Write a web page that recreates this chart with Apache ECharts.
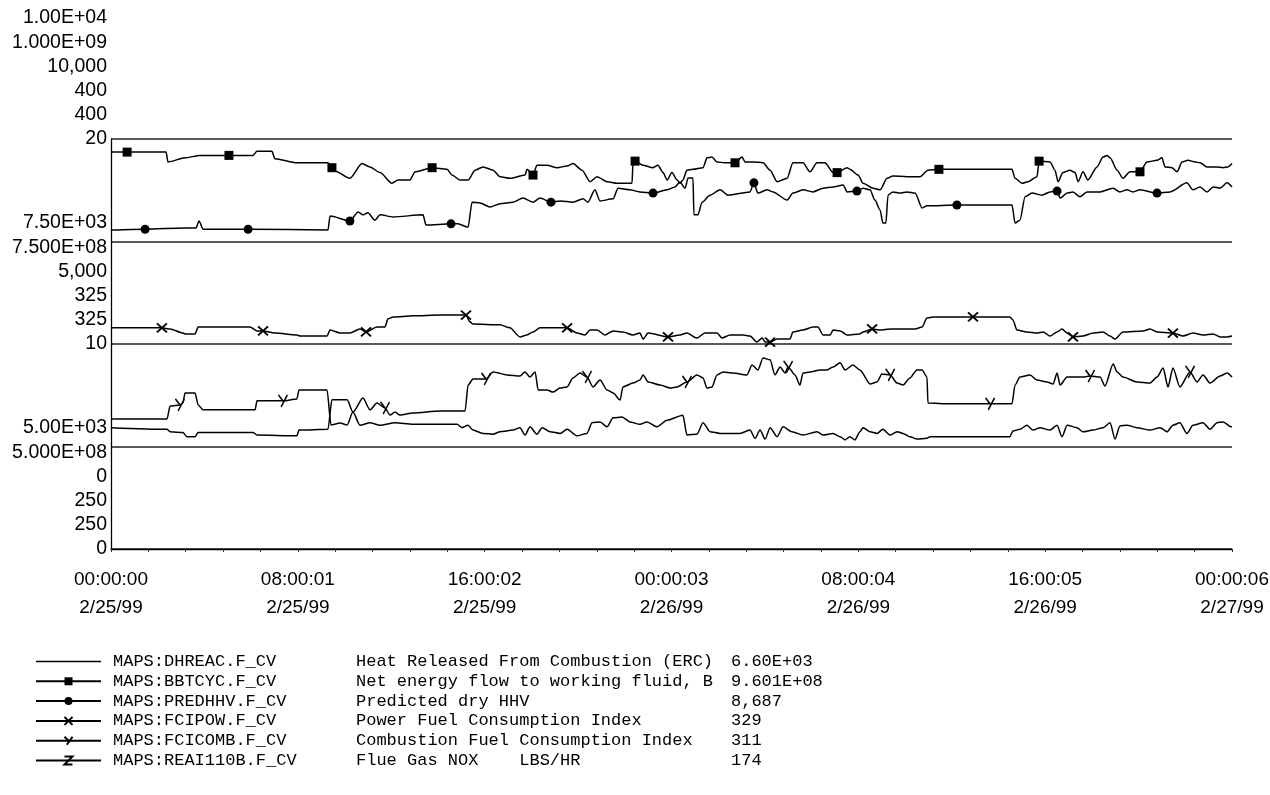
<!DOCTYPE html>
<html>
<head>
<meta charset="utf-8">
<title>MAPS trend 2/25/99 - 2/27/99</title>
<script src="https://cdn.jsdelivr.net/npm/echarts@6/dist/echarts.min.js"></script>
<style>
  html, body { margin: 0; padding: 0; background: #fff; }
  #chart { width: 1270px; height: 795px; }
</style>
</head>
<body>
<div id="chart"></div>
<script>
// x axis: hours since 00:00:00 2/25/99
const timeLabels = ['00:00:00\n2/25/99', '08:00:01\n2/25/99', '16:00:02\n2/25/99', '00:00:03\n2/26/99',
  '08:00:04\n2/26/99', '16:00:05\n2/26/99', '00:00:06\n2/27/99'];

// pen scale labels (min, mid, max)
const dhreacTicks = ['5.00E+03', '7.50E+03', '1.00E+04'];
const bbtcycTicks = ['5.000E+08', '7.500E+08', '1.000E+09'];
const predhhvTicks = ['0', '5,000', '10,000'];
const fcipowTicks = ['250', '325', '400'];
const fcicombTicks = ['250', '325', '400'];
const reaiTicks = ['0', '10', '20'];

// legend text
const tags = ['MAPS:DHREAC.F_CV', 'MAPS:BBTCYC.F_CV', 'MAPS:PREDHHV.F_CV', 'MAPS:FCIPOW.F_CV', 'MAPS:FCICOMB.F_CV', 'MAPS:REAI110B.F_CV'];
const descs = ['Heat Released From Combustion (ERC)', 'Net energy flow to working fluid, B', 'Predicted dry HHV',
  'Power Fuel Consumption Index', 'Combustion Fuel Consumption Index', 'Flue Gas NOX    LBS/HR'];
const lastValues = ['6.60E+03', '9.601E+08', '8,687', '329', '311', '174'];

// [hour, value]
const dhreacData = [[0,6480],[2.40,6460],[2.53,6430],[3.08,6420],[3.25,6370],[3.60,6370],[3.73,6420],[6.08,6420],[6.25,6390],
  [7.96,6380],[8.05,6450],[9.29,6460],[9.46,6820],[10.11,6820],[10.36,6670],[10.66,6510],[11.09,6540],[11.52,6510],[12.16,6540],
  [12.93,6520],[14.82,6520],[15.03,6480],[15.29,6510],[15.50,6450],[15.93,6410],[16.36,6400],[16.66,6430],[17.21,6450],[17.51,6480],
  [17.73,6390],[17.94,6490],[18.24,6400],[18.46,6480],[18.80,6430],[19.23,6410],[19.53,6460],[19.95,6380],[20.38,6410],[20.60,6540],
  [20.94,6550],[21.24,6490],[21.50,6600],[21.88,6610],[22.22,6550],[22.65,6520],[22.95,6550],[23.38,6490],[23.81,6570],[24.49,6630],
  [24.66,6390],[25.09,6400],[25.35,6540],[25.65,6430],[26.08,6410],[26.93,6410],[27.36,6450],[27.58,6350],[27.79,6450],[28.01,6340],
  [28.22,6480],[28.52,6370],[28.78,6490],[29.16,6430],[29.63,6390],[30.23,6430],[30.49,6390],[30.92,6410],[31.22,6370],[31.43,6330],
  [31.64,6370],[31.85,6330],[32.07,6430],[32.20,6480],[32.50,6430],[32.80,6410],[33.05,6460],[33.36,6390],[33.66,6430],[33.91,6410],
  [34.21,6370],[34.51,6340],[34.94,6350],[35.07,6370],[38.49,6370],[38.62,6440],[38.92,6460],[39.22,6510],[39.48,6450],[39.78,6480],
  [40.21,6450],[40.51,6510],[40.72,6370],[40.94,6510],[41.36,6480],[41.62,6430],[42.05,6450],[42.48,6480],[42.78,6540],[42.99,6340],
  [43.20,6500],[43.50,6510],[43.93,6480],[44.49,6450],[44.92,6480],[45.22,6430],[45.47,6510],[45.77,6540],[46.07,6410],[46.33,6510],
  [46.76,6540],[47.06,6460],[47.36,6540],[47.62,6550],[47.96,6490],[48,6490]];

const bbtcycData = [[0,9.84e8],[0.69,9.84e8],[2.36,9.84e8],[2.44,9.72e8],[3.17,9.77e8],[3.81,9.80e8],[5.05,9.80e8],[6.08,9.80e8],
  [6.25,9.85e8],[6.89,9.85e8],[7.02,9.76e8],[7.96,9.71e8],[9.29,9.71e8],[9.46,9.65e8],[9.59,9.61e8],[10.23,9.52e8],[10.75,9.70e8],
  [11.09,9.66e8],[11.52,9.59e8],[12.03,9.46e8],[12.29,9.50e8],[12.80,9.50e8],[13.02,9.60e8],[13.75,9.65e8],[14.39,9.63e8],[14.60,9.56e8],
  [14.94,9.50e8],[15.29,9.50e8],[15.59,9.62e8],[15.93,9.66e8],[16.36,9.62e8],[16.66,9.54e8],[17.08,9.52e8],[17.73,9.56e8],[17.81,9.63e8],
  [18.07,9.56e8],[18.24,9.68e8],[18.67,9.68e8],[19.10,9.65e8],[19.53,9.67e8],[19.78,9.70e8],[20.17,9.62e8],[20.51,9.48e8],[20.81,9.54e8],
  [21.24,9.48e8],[21.67,9.46e8],[22.31,9.46e8],[22.35,9.71e8],[22.44,9.73e8],[22.78,9.68e8],[23.21,9.65e8],[23.42,9.68e8],[23.64,9.59e8],
  [23.81,9.50e8],[24.02,9.59e8],[24.24,9.50e8],[24.36,9.46e8],[24.49,9.50e8],[24.66,9.62e8],[24.92,9.63e8],[25.35,9.65e8],[25.52,9.77e8],
  [25.73,9.78e8],[25.95,9.72e8],[26.29,9.71e8],[26.72,9.71e8],[27.02,9.78e8],[27.15,9.72e8],[27.49,9.72e8],[27.92,9.71e8],[28.22,9.62e8],
  [28.52,9.48e8],[28.95,9.52e8],[29.20,9.71e8],[29.63,9.71e8],[29.93,9.60e8],[30.23,9.71e8],[30.57,9.71e8],[30.92,9.59e8],[31.09,9.59e8],
  [31.52,9.65e8],[31.64,9.63e8],[31.99,9.56e8],[32.20,9.46e8],[32.63,9.40e8],[32.93,9.38e8],[33.23,9.52e8],[33.48,9.55e8],[34.08,9.54e8],
  [34.64,9.54e8],[34.98,9.62e8],[35.45,9.63e8],[38.58,9.63e8],[38.71,9.52e8],[39.01,9.46e8],[39.27,9.48e8],[39.65,9.54e8],[39.74,9.73e8],
  [40.21,9.72e8],[40.42,9.62e8],[40.55,9.48e8],[40.76,9.59e8],[41.06,9.62e8],[41.28,9.59e8],[41.41,9.48e8],[41.62,9.60e8],[41.83,9.50e8],
  [42.22,9.66e8],[42.48,9.78e8],[42.65,9.80e8],[42.78,9.77e8],[43.08,9.62e8],[43.33,9.52e8],[43.63,9.60e8],[44.06,9.60e8],[44.36,9.72e8],
  [44.79,9.74e8],[45.00,9.77e8],[45.13,9.66e8],[45.43,9.65e8],[45.65,9.60e8],[45.86,9.72e8],[46.12,9.74e8],[46.42,9.72e8],[46.63,9.71e8],
  [46.93,9.66e8],[47.36,9.66e8],[47.62,9.65e8],[47.83,9.66e8],[48,9.70e8]];

const predhhvData = [[0,7780],[1.46,7800],[3.17,7830],[3.64,7830],[3.77,8000],[3.94,7800],[5.87,7800],[9.29,7780],[9.38,8120],
  [10.23,8000],[10.58,8220],[10.79,8150],[11.00,8200],[11.30,8020],[11.52,8150],[12.08,8100],[13.36,8150],[13.49,7900],[14.56,7930],
  [14.85,7930],[15.29,7850],[15.46,8460],[15.80,8440],[16.23,8340],[16.66,8420],[17.21,8460],[17.64,8560],[18.07,8460],[18.37,8560],
  [18.84,8460],[19.23,8490],[19.78,8460],[20.21,8540],[20.42,8460],[20.72,8760],[20.94,8490],[21.50,8540],[21.71,8800],[22.22,8760],
  [22.65,8710],[23.21,8680],[23.81,8760],[24.15,8830],[24.36,8950],[24.58,8800],[24.71,9050],[24.92,9050],[24.96,8150],[25.13,8150],
  [25.31,8460],[25.65,8630],[26.08,8760],[26.42,8630],[27.36,8710],[27.53,8930],[27.70,8680],[28.09,8760],[28.35,8710],[28.95,8510],
  [29.20,8680],[29.63,8760],[30.06,8710],[30.49,8800],[30.92,8830],[31.35,8880],[31.52,8710],[31.94,8730],[32.20,8800],[32.50,8760],
  [32.71,8510],[32.93,8270],[33.05,7950],[33.18,7950],[33.27,8630],[33.48,8710],[33.78,8680],[34.08,8710],[34.43,8680],[34.73,8320],
  [34.94,8370],[36.22,8390],[38.58,8390],[38.71,7950],[38.92,8020],[39.14,8590],[39.44,8680],[39.86,8630],[40.21,8710],[40.51,8730],
  [40.64,8560],[40.94,8680],[41.19,8710],[41.49,8590],[41.79,8710],[42.35,8710],[42.91,8800],[43.20,8710],[43.50,8760],[43.76,8710],
  [44.06,8760],[44.79,8680],[45.35,8710],[46.07,8930],[46.33,8760],[46.63,8830],[46.93,8710],[47.19,8830],[47.49,8800],[47.79,8930],
  [48,8830]];

const fcipowData = [[0,330.9],[2.18,330.9],[2.53,330.5],[3.08,329.0],[3.17,328.7],[3.60,328.7],[3.73,331.2],[5.95,331.2],[6.25,329.8],
  [6.51,329.8],[7.02,329.0],[7.96,328.3],[8.09,327.9],[9.25,327.9],[9.38,330.1],[9.81,329.0],[10.23,329.0],[10.66,330.5],[10.92,329.4],
  [11.39,331.2],[11.73,331.2],[11.86,334.2],[12.08,334.9],[12.93,335.3],[14.09,335.6],[15.20,335.6],[15.37,333.1],[15.50,332.3],
  [16.66,332.0],[17.08,330.9],[17.51,327.6],[17.81,328.3],[18.07,329.4],[18.37,330.9],[18.80,330.9],[19.53,330.9],[19.95,329.0],
  [20.30,328.3],[20.51,330.1],[20.81,330.1],[21.15,328.3],[21.50,329.8],[21.92,329.4],[22.35,328.3],[22.65,329.0],[22.78,326.8],
  [23.00,329.0],[23.85,327.6],[24.36,328.3],[24.66,329.0],[25.09,327.2],[25.43,329.0],[25.95,329.0],[26.16,327.2],[26.51,328.3],
  [27.06,328.3],[27.36,327.9],[27.66,325.7],[27.88,327.2],[28.01,325.7],[28.22,325.7],[28.52,326.8],[29.07,326.8],[29.20,329.4],
  [29.63,330.1],[30.06,331.2],[30.27,331.2],[30.49,328.3],[30.79,328.3],[30.92,330.1],[31.22,329.8],[31.52,328.3],[32.07,328.7],
  [32.20,329.4],[32.59,330.5],[32.93,330.1],[33.36,330.5],[34.43,330.5],[34.73,331.2],[34.94,334.5],[35.20,334.9],[36.91,334.9],
  [38.49,334.9],[38.62,333.8],[38.79,330.1],[39.22,329.4],[39.65,329.0],[39.91,329.4],[40.21,327.9],[40.51,329.4],[40.72,330.5],
  [40.94,329.0],[41.19,327.6],[41.62,327.9],[42.05,329.0],[42.48,329.4],[42.78,327.9],[42.99,326.8],[43.33,329.4],[44.19,329.8],
  [44.49,330.5],[44.79,329.4],[45.47,329.0],[45.90,327.9],[46.33,329.0],[46.76,328.3],[47.19,328.7],[47.49,327.6],[47.79,327.6],
  [48,327.9]];

const fcicombData = [[0,297.6],[2.40,297.6],[2.53,302.3],[2.95,302.7],[3.08,303.4],[3.17,307.1],[3.60,307.1],[3.73,302.7],[3.94,300.9],
  [6.17,300.9],[6.25,304.2],[7.36,304.2],[7.96,304.9],[8.05,308.2],[9.25,308.2],[9.42,295.4],[9.81,296.1],[10.11,295.4],[10.36,300.1],
  [10.79,305.2],[11.09,300.9],[11.39,303.4],[11.73,301.6],[11.95,299.0],[12.16,300.1],[12.37,299.0],[12.93,299.8],[14.09,300.5],
  [15.16,300.5],[15.29,310.0],[15.50,312.2],[16.06,312.2],[16.36,314.8],[16.96,313.7],[17.51,313.3],[17.73,314.8],[17.94,312.9],
  [18.16,314.8],[18.29,308.2],[18.67,308.2],[18.92,307.4],[19.23,308.9],[19.53,309.3],[19.78,312.6],[20.08,314.4],[20.38,312.9],
  [20.64,309.3],[20.94,311.8],[21.24,308.2],[21.50,307.1],[21.80,304.5],[21.92,309.3],[22.35,310.7],[22.65,311.8],[22.78,313.7],
  [23.00,311.1],[23.51,310.0],[23.94,308.9],[24.24,309.3],[24.66,311.1],[25.09,313.7],[25.35,312.6],[25.52,308.9],[25.73,309.3],
  [25.95,313.7],[26.21,314.8],[26.63,314.4],[27.23,313.7],[27.45,317.3],[27.70,315.5],[27.92,319.9],[28.22,319.2],[28.43,313.7],
  [28.65,316.6],[28.86,314.4],[28.99,316.6],[29.29,313.7],[29.50,310.0],[29.63,314.4],[29.93,314.8],[30.36,315.5],[30.66,315.5],
  [30.92,316.6],[31.22,318.1],[31.43,315.5],[31.77,317.3],[32.07,315.5],[32.50,310.4],[32.80,311.1],[33.01,314.0],[33.36,313.7],
  [33.66,310.7],[33.91,310.0],[34.21,312.6],[34.51,315.5],[34.73,315.5],[34.94,312.9],[34.98,303.4],[35.93,303.1],[37.64,303.1],
  [38.58,303.1],[38.71,310.0],[38.92,312.9],[39.35,313.7],[39.65,311.8],[40.08,311.1],[40.34,310.4],[40.51,314.4],[40.64,310.0],
  [40.94,312.9],[41.62,312.9],[41.92,313.3],[42.35,312.9],[42.56,309.6],[42.91,317.7],[43.08,314.8],[43.33,312.9],[43.93,311.1],
  [44.49,310.7],[44.79,312.9],[45.05,316.2],[45.26,309.3],[45.47,316.2],[45.77,309.3],[46.20,314.8],[46.50,311.1],[46.76,313.7],
  [47.06,310.7],[47.49,313.3],[47.79,314.4],[48,312.9]];

const reaiData = [];

// hours where the pen marker is printed on the trace
const bbtcycMarks = [0.69, 5.05, 9.46, 13.75, 18.07, 22.44, 26.72, 31.09, 35.45, 39.74, 44.06];
const predhhvMarks = [1.46, 5.87, 10.23, 14.56, 18.84, 23.21, 27.53, 31.94, 36.22, 40.51, 44.79];
const fcipowMarks = [2.18, 6.51, 10.92, 15.20, 19.53, 23.85, 28.22, 32.59, 36.91, 41.19, 45.47];
const fcicombMarks = [2.95, 7.36, 11.73, 16.06, 20.38, 24.66, 28.99, 33.36, 37.64, 41.92, 46.20];

const SANS = "'Liberation Sans', Arial, sans-serif";
const MONO = "'Liberation Mono', 'DejaVu Sans Mono', monospace";
const STEP = 24.2; // vertical spacing of stacked scale labels

// each pen has its own scale; its labels are stacked k rows above the grid line they belong to.
// `every` maps tick index -> label index (0.5 = only min/max ticks exist).
function penAxis(min, max, interval, labels, every, k, edges) {
  let pad = '';
  for (let j = 0; j < k; j++) pad += '\n ';
  return {
    type: 'value', min: min, max: max, interval: interval, position: 'left',
    axisLine: { show: false }, axisTick: { show: false }, splitLine: { show: false },
    axisLabel: {
      margin: 4, fontSize: 19.5, lineHeight: 2 * STEP, color: '#000', fontFamily: SANS,
      showMinLabel: edges, showMaxLabel: edges, hideOverlap: false,
      formatter: function (v, i) { return i % every === 0 ? labels[i / every] + pad : ''; }
    }
  };
}

const yAxes = [
  penAxis(0, 20, 5, reaiTicks, 2, 0, true),
  penAxis(250, 400, 25, fcicombTicks, 3, 1, true),
  penAxis(250, 400, 25, fcipowTicks, 3, 2, true),
  penAxis(0, 10000, 5000, predhhvTicks, 1, 3, true),
  penAxis(5e8, 1e9, 5e8, bbtcycTicks, 0.5, 4, true),
  penAxis(5000, 10000, 5000, dhreacTicks, 0.5, 5, true),
  // mid labels of the two tallest stacks, drawn by their own axes so nothing gets hidden
  penAxis(5e8, 1e9, 2.5e8, bbtcycTicks, 1, 4, false),
  penAxis(5000, 10000, 2500, dhreacTicks, 1, 5, false)
];
yAxes[0].splitLine = { show: true, lineStyle: { color: '#222', width: 1.6 } };
yAxes[0].axisLine = { show: true, lineStyle: { color: '#000', width: 1.3 } };

function markSize(marks, size) {
  return function (val) { return marks.indexOf(val[0]) >= 0 ? size : 0; };
}

function pen(name, data, axis, symbol, size, marks, fill, stroke) {
  return {
    name: name, type: 'line', yAxisIndex: axis, data: data,
    symbol: symbol, symbolSize: marks ? markSize(marks, size) : size,
    showSymbol: true, showAllSymbol: true,
    smooth: 0.25, smoothMonotone: 'x',
    lineStyle: { color: '#000', width: 1.5 },
    itemStyle: { color: fill, borderColor: '#000', borderWidth: stroke },
    emphasis: { disabled: true }
  };
}

const chart = echarts.init(document.getElementById('chart'), null, { renderer: 'canvas' });
chart.setOption({
  animation: false,
  backgroundColor: '#fff',
  grid: { left: 111, right: 38, top: 139, bottom: 246, containLabel: false, outerBoundsMode: 'none' },
  xAxis: {
    type: 'value', min: 0, max: 48, interval: 8,
    axisLine: { show: true, lineStyle: { color: '#000', width: 1.3 } },
    axisTick: { show: true, length: 3, lineStyle: { color: '#333' } },
    minorTick: { show: true, splitNumber: 5, length: 3, lineStyle: { color: '#333' } },
    splitLine: { show: false },
    axisLabel: {
      margin: 17, fontSize: 19, lineHeight: 28, color: '#000', fontFamily: SANS,
      formatter: function (v, i) { return timeLabels[i]; }
    }
  },
  yAxis: yAxes,
  legend: {
    orient: 'vertical', left: 30, top: 648, itemWidth: 65, itemHeight: 10, itemGap: 2.8,
    selectedMode: false,
    data: [
      { name: tags[0], icon: 'path://M0,0L65,0L65,1.4L0,1.4Z' },
      tags[1], tags[2], tags[3], tags[4], tags[5]
    ],
    textStyle: {
      fontFamily: MONO, fontSize: 17, color: '#000', lineHeight: 17,
      rich: {
        n: { fontFamily: MONO, fontSize: 17, width: 243, padding: [0, 0, 0, 7] },
        d: { fontFamily: MONO, fontSize: 17, width: 375 },
        v: { fontFamily: MONO, fontSize: 17 }
      }
    },
    formatter: function (name) {
      const i = tags.indexOf(name);
      return '{n|' + name + '}{d|' + descs[i] + '}{v|' + lastValues[i] + '}';
    }
  },
  series: [
    pen(tags[0], dhreacData, 5, 'none', 0, null, '#000', 0),
    pen(tags[1], bbtcycData, 4, 'rect', 9, bbtcycMarks, '#000', 0),
    pen(tags[2], predhhvData, 3, 'circle', 9, predhhvMarks, '#000', 0),
    pen(tags[3], fcipowData, 2, 'path://M0,0L10,9M10,0L0,9', [10, 9], fcipowMarks, 'rgba(0,0,0,0)', 1.8),
    pen(tags[4], fcicombData, 1, 'path://M0,0L5,7M10,0L3,14', [9, 12], fcicombMarks, 'rgba(0,0,0,0)', 1.6),
    pen(tags[5], reaiData, 0, 'path://M0,0L10,0L0,10L10,10', 8, null, 'rgba(0,0,0,0)', 1.4)
  ]
});
</script>
</body>
</html>
